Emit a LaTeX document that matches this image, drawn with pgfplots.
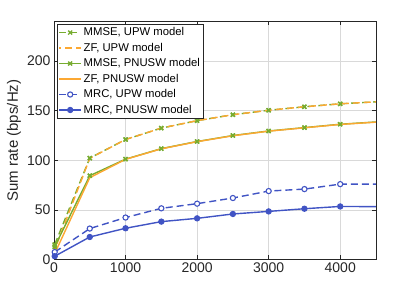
\documentclass[border=0pt]{standalone}
\usepackage{pgfplots}
\pgfplotsset{compat=1.18}
\usepackage{fontspec}
\setmainfont{Liberation Sans}
\definecolor{cg}{RGB}{119,172,48}
\definecolor{co}{RGB}{252,168,50}
\definecolor{cb}{RGB}{65,84,196}
\definecolor{ax}{RGB}{38,38,38}

\pgfplotstableread{
x     mmseu zfu   mmsep zfp   mrcu  mrcp
10    15    10    13    6     7.5   3.3
500   102.3 102   84.5  82.5  31.2  22.7
1000  121   121   101.2 101   42.3  31.5
1500  132.5 132.5 111.8 111.6 51.6  38.2
2000  140   140   119   118.8 56.3  41.5
2500  146   146   125   124.8 62    45.9
3000  150.5 150.5 129.6 129.4 69    48.5
3500  154   154   133   132.8 71    51.2
4000  157   157   136.4 136.2 76    53.5
5000  161   161   141   140.8 76    53.1
}\data

\begin{document}
\begin{tikzpicture}
\begin{axis}[
  scale only axis, width=322pt, height=238pt,
  xmin=0, xmax=4500, ymin=0, ymax=240,
  xtick={0,1000,2000,3000,4000}, ytick={0,50,100,150,200},
  grid=major, major grid style={color=black!15, line width=0.6pt},
  tick align=inside, major tick length=4pt,
  axis line style={color=ax, line width=0.8pt},
  every tick/.style={color=ax, line width=0.8pt},
  tick label style={font=\fontsize{14}{14}\selectfont, color=ax},
  /pgf/number format/assume math mode=true,
  /pgf/number format/set thousands separator={},
  ylabel={Sum rate (bps/Hz)},
  ylabel style={font=\fontsize{15}{15}\selectfont, color=ax, at={(axis description cs:-0.124,0.5)}, anchor=center},
  legend style={at={(axis description cs:0,1)}, anchor=north west, xshift=3pt, yshift=-2.5pt,
    font=\fontsize{11.3}{13}\selectfont, draw=ax, inner sep=1.5pt,
    /tikz/every even column/.append style={column sep=2pt},
    row sep=1.8pt},
  legend cell align=left,
  legend image code/.code={\draw[mark repeat=2,mark phase=2,#1] plot coordinates {(0cm,0cm) (0.38cm,0cm) (0.76cm,0cm)};},
]
\addplot[cg, line width=1.4pt, dash pattern=on 7pt off 4pt, mark=x, mark size=2.8pt, mark options={solid}] table[x=x,y=mmseu]{\data};
\addlegendentry{MMSE, UPW model}
\addplot[co, line width=1.4pt, dash pattern=on 7pt off 4pt, dash phase=5pt] table[x=x,y=zfu]{\data};
\addlegendentry{ZF, UPW model}
\addplot[cg, line width=1.4pt, mark=x, mark size=2.8pt] table[x=x,y=mmsep]{\data};
\addlegendentry{MMSE, PNUSW model}
\addplot[co, line width=1.4pt] table[x=x,y=zfp]{\data};
\addlegendentry{ZF, PNUSW model}
\addplot[cb, line width=1.4pt, dash pattern=on 7pt off 4pt, mark=*, mark size=2.6pt, mark options={solid, fill=white, line width=1.1pt}] table[x=x,y=mrcu]{\data};
\addlegendentry{MRC, UPW model}
\addplot[cb, line width=1.4pt, mark=*, mark size=2.6pt, mark options={line width=1.1pt}] table[x=x,y=mrcp]{\data};
\addlegendentry{MRC, PNUSW model}
\addplot[cg, line width=1.4pt, only marks, mark=x, mark size=2.8pt, forget plot] table[x=x,y=mmseu]{\data};
\addplot[cg, line width=1.4pt, only marks, mark=x, mark size=2.8pt, forget plot] table[x=x,y=mmsep]{\data};
\end{axis}
\pgfresetboundingbox
\path[use as bounding box] ([xshift=-54pt,yshift=-32pt]current axis.south west) rectangle ([xshift=39pt,yshift=21.5pt]current axis.north east);
\end{tikzpicture}
\end{document}
